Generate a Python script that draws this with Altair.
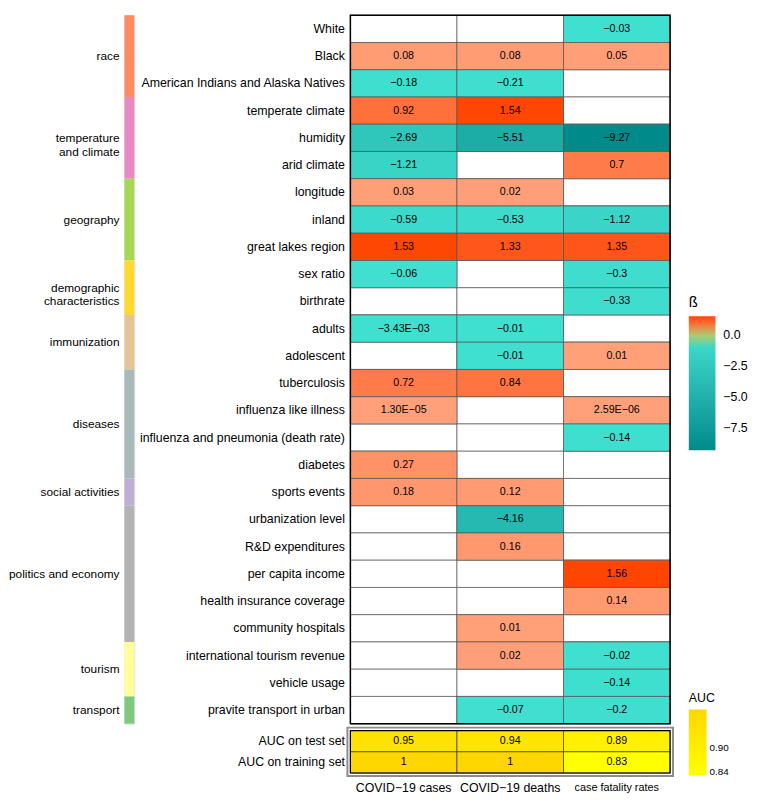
import altair as alt
import pandas as pd

# ---------------- data ----------------
rows = [
    "White", "Black", "American Indians and Alaska Natives",
    "temperate climate", "humidity", "arid climate",
    "longitude", "inland", "great lakes region",
    "sex ratio", "birthrate",
    "adults", "adolescent",
    "tuberculosis", "influenza like illness", "influenza and pneumonia (death rate)", "diabetes",
    "sports events",
    "urbanization level", "R&D expenditures", "per capita income", "health insurance coverage", "community hospitals",
    "international tourism revenue", "vehicle usage",
    "pravite transport in urban",
]

columns = ["COVID\u221219 cases", "COVID\u221219 deaths", "case fatality rates"]

cases = [None, "0.08", "\u22120.18", "0.92", "\u22122.69", "\u22121.21", "0.03", "\u22120.59", "1.53",
         "\u22120.06", None, "\u22123.43E\u221203", None, "0.72", "1.30E\u221205", None, "0.27",
         "0.18", None, None, None, None, None, None, None, None]
deaths = [None, "0.08", "\u22120.21", "1.54", "\u22125.51", None, "0.02", "\u22120.53", "1.33",
          None, None, "\u22120.01", "\u22120.01", "0.84", None, None, None,
          "0.12", "\u22124.16", "0.16", None, None, "0.01", "0.02", None, "\u22120.07"]
fatality = ["\u22120.03", "0.05", None, None, "\u22129.27", "0.7", None, "\u22121.12", "1.35",
            "\u22120.3", "\u22120.33", None, "0.01", None, "2.59E\u221206", "\u22120.14", None,
            None, None, None, "1.56", "0.14", None, "\u22120.02", "\u22120.14", "\u22120.2"]

categories = ["race", "temperature\nand climate", "geography", "demographic\ncharacteristics",
              "immunization", "diseases", "social activities", "politics and economy",
              "tourism", "transport"]
category_sizes = [3, 3, 3, 2, 2, 4, 1, 5, 2, 1]

auc_rows = ["AUC on test set", "AUC on training set"]
auc_test = [0.95, 0.94, 0.89]
auc_train = [1, 1, 0.83]

# ---------------- styles ----------------
category_colors = ["#FC8D62", "#E78AC3", "#A6D854", "#FFD92F", "#E5C494",
                   "#A8B9B9", "#BEAED4", "#B3B3B3", "#FFFF99", "#7FC97F"]
FONT = "Liberation Sans"
MAIN_W, MAIN_H = 324, 718
AUC_H = 43


def to_num(s):
    return None if s is None else float(s.replace("\u2212", "-"))


recs = []
for series, cname in zip([cases, deaths, fatality], columns):
    for r, s in zip(rows, series):
        recs.append({"row": r, "col": cname, "label": s, "value": to_num(s)})
df = pd.DataFrame(recs)

vals = [v for v in df["value"] if v is not None and v == v]
vmin, vmax = min(vals), max(vals)

# ---------------- main heatmap ----------------
x_main = alt.X("col:N", sort=columns, axis=None)
y_axis = alt.Axis(title=None, ticks=False, domain=False, labelFontSize=12.5, labelPadding=6,
                  labelLimit=320, labelColor="black", labelFont=FONT)
y_main = alt.Y("row:N", sort=rows, axis=y_axis)

base = alt.Chart(df)
bg = base.mark_rect(fill="white", stroke="#555555", strokeWidth=0.7).encode(x=x_main, y=y_main)
colored = base.transform_filter("isValid(datum.value)").mark_rect(
    stroke="#555555", strokeWidth=0.7
).encode(
    x=x_main, y=y_main,
    color=alt.Color(
        "value:Q",
        scale=alt.Scale(domain=[vmin, -1e-6, 1e-6, vmax],
                        range=["#008B8B", "#40E0D0", "#FFA07A", "#FF4500"]),
        legend=alt.Legend(
            title="\u00df", orient="none", legendX=343, legendY=284,
            direction="vertical", gradientLength=136, gradientThickness=27,
            values=[0, -2.5, -5, -7.5], format=".1f",
            labelFontSize=12.5, labelOffset=8, labelColor="black", labelFont=FONT,
            titleFontSize=15, titleFontWeight="normal", titlePadding=6, titleColor="black",
            titleFont=FONT, padding=0, gradientStrokeWidth=0,
        ),
    ),
)
txt = base.transform_filter("isValid(datum.value)").mark_text(
    fontSize=10.8, color="black", font=FONT
).encode(x=x_main, y=y_main, text="label:N")
frame = alt.Chart(pd.DataFrame({"f": [0]})).mark_rect(
    filled=False, stroke="black", strokeWidth=1.5
).encode(x=alt.value(0), x2=alt.value(MAIN_W), y=alt.value(0), y2=alt.value(MAIN_H))

main = alt.layer(bg, colored, txt, frame).properties(width=MAIN_W, height=MAIN_H)

# ---------------- AUC panel ----------------
auc_recs = []
for r, series in zip(auc_rows, [auc_test, auc_train]):
    for cname, v in zip(columns, series):
        auc_recs.append({"row": r, "col": cname, "value": v, "label": f"{v:g}"})
auc_df = pd.DataFrame(auc_recs)
amin, amax = auc_df["value"].min(), auc_df["value"].max()

x_auc = alt.X("col:N", sort=columns, axis=alt.Axis(
    title=None, orient="bottom", ticks=False, domain=False, labelAngle=0,
    labelFontSize={"condition": {"test": "datum.value == 'case fatality rates'", "value": 11}, "value": 12.5},
    labelPadding=9, labelColor="black", labelLimit=200, labelFont=FONT))
y_auc = alt.Y("row:N", sort=auc_rows, axis=y_axis)

abase = alt.Chart(auc_df)
arect = abase.mark_rect(stroke="#333333", strokeWidth=0.7).encode(
    x=x_auc, y=y_auc,
    color=alt.Color(
        "value:Q",
        scale=alt.Scale(domain=[amin, amax], range=["#FFFF00", "#FFD700"]),
        legend=alt.Legend(
            title="AUC", orient="none", legendX=343, legendY=-39,
            direction="vertical", gradientLength=67, gradientThickness=18,
            values=[0.84, 0.90], format=".2f",
            labelFontSize=10, labelOffset=3, labelColor="black", labelFont=FONT,
            titleFontSize=12.5, titleFontWeight="normal", titlePadding=5, titleColor="black",
            titleFont=FONT, padding=0, gradientStrokeWidth=0,
        ),
    ),
)
atxt = abase.mark_text(fontSize=10.8, color="black", font=FONT).encode(x=x_auc, y=y_auc, text="label:N")
aframe = alt.Chart(pd.DataFrame({"f": [0]})).mark_rect(
    filled=False, stroke="black", strokeWidth=1.2
).encode(x=alt.value(0), x2=alt.value(MAIN_W), y=alt.value(0), y2=alt.value(AUC_H))
aframe2 = alt.Chart(pd.DataFrame({"f": [0]})).mark_rect(
    filled=False, stroke="#8C8C8C", strokeWidth=2
).encode(x=alt.value(-3), x2=alt.value(MAIN_W + 3), y=alt.value(-3), y2=alt.value(AUC_H + 3))

auc = alt.layer(arect, atxt, aframe, aframe2).properties(width=MAIN_W, height=AUC_H)

# ---------------- category side bar ----------------
cat_df = pd.DataFrame({"category": categories, "size": category_sizes})
cat_df["end"] = cat_df["size"].cumsum()
cat_df["start"] = cat_df["end"] - cat_df["size"]
cat_df["mid"] = (cat_df["start"] + cat_df["end"]) / 2
total = int(cat_df["end"].max())

yscale = alt.Scale(domain=[0, total], reverse=True, nice=False, zero=False)
cbase = alt.Chart(cat_df)
cbar = cbase.mark_rect().encode(
    x=alt.value(0), x2=alt.value(10),
    y=alt.Y("start:Q", scale=yscale, axis=None), y2="end:Q",
    color=alt.Color("category:N", scale=alt.Scale(domain=categories, range=category_colors), legend=None),
)
ctext = cbase.mark_text(align="right", baseline="middle", fontSize=12, lineBreak="\n",
                        color="black", font=FONT).encode(
    x=alt.value(-5), y=alt.Y("mid:Q", scale=yscale, axis=None), text="category:N")
catpanel = alt.layer(cbar, ctext).properties(width=10, height=MAIN_H)

right = alt.vconcat(main, auc, spacing=7, bounds="flush").resolve_scale(color="independent")

chart = alt.hconcat(catpanel, right, spacing=3).resolve_scale(color="independent").properties(
    padding=0
).configure_view(stroke=None).configure(font=FONT)

chart.save("out.html", embed_options={"renderer": "svg", "actions": False})
